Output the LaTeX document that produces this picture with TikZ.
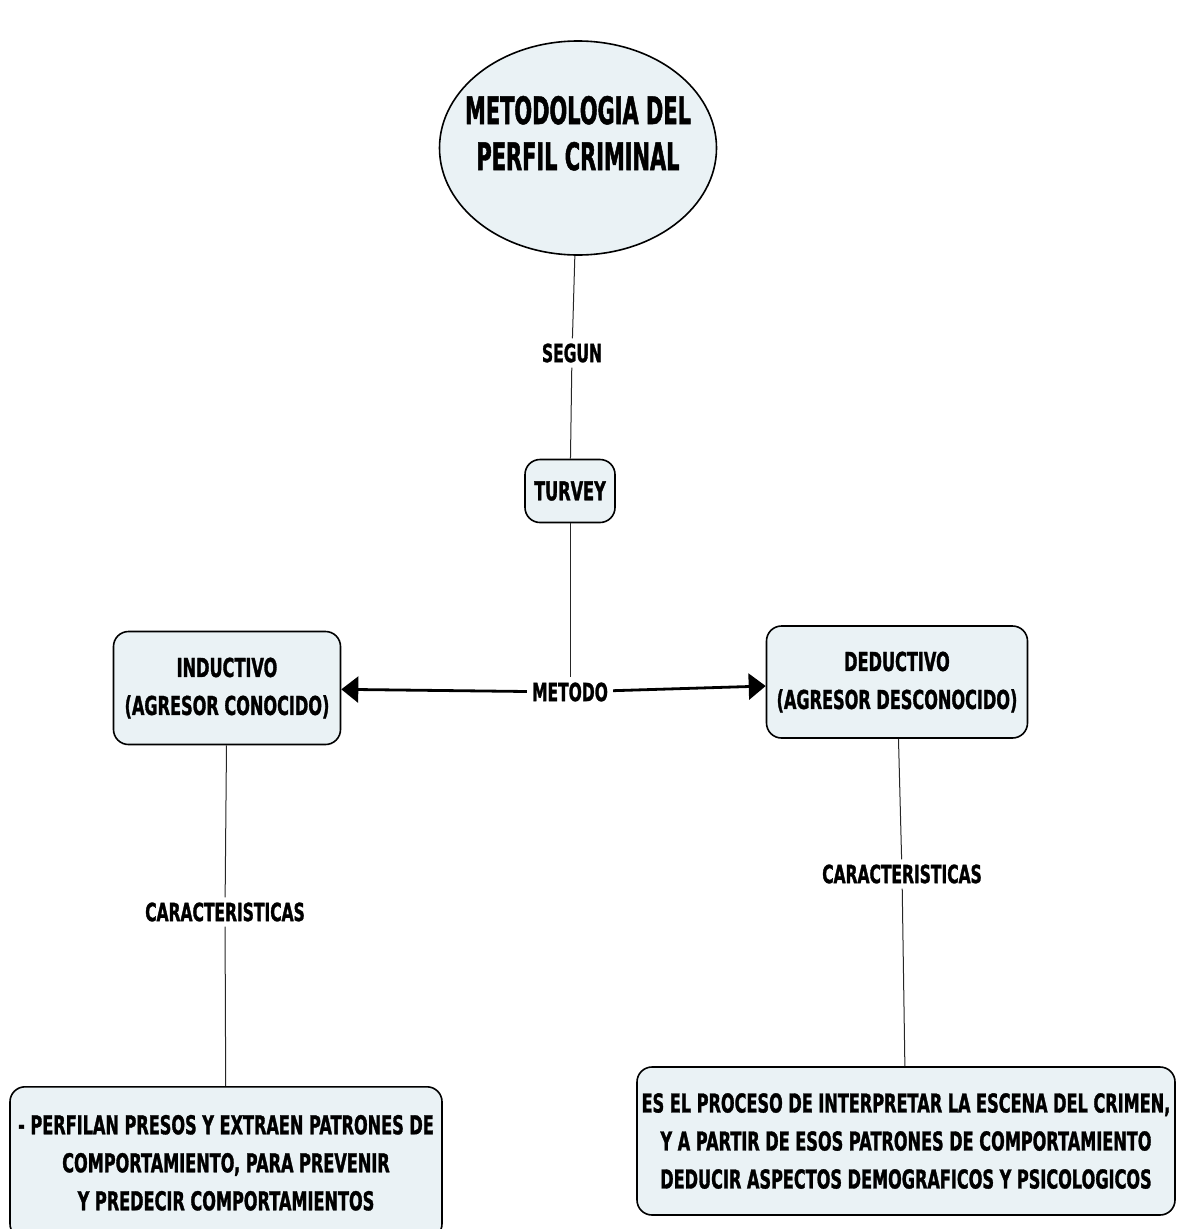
\documentclass[tikz,border=0pt]{standalone}
\usepackage{fontspec}
\setmainfont{DejaVu Sans}[FakeStretch=0.62, BoldFeatures={FakeBold=1.2}]
\newfontfamily\narrowfont{DejaVu Sans}[FakeStretch=0.55, BoldFeatures={FakeBold=1.2}]
\usetikzlibrary{shapes.geometric,arrows.meta}
\definecolor{boxfill}{HTML}{EAF2F5}

\tikzset{
  concept/.style={draw, line width=1.6pt, fill=boxfill, rounded corners=15pt,
    align=center, inner sep=0pt, font=\bfseries\fontsize{26}{38}\selectfont},
  mainidea/.style={ellipse, draw, line width=1.6pt, fill=boxfill, align=center,
    inner xsep=-20pt, inner ysep=0pt, text depth=30pt,
    font=\narrowfont\bfseries\fontsize{38}{46}\selectfont},
  linkword/.style={inner sep=5pt, font=\bfseries\fontsize{25}{30}\selectfont},
  link/.style={line width=1pt, draw=black!85},
  bigarrow/.style={line width=2.8pt, -{Triangle[length=17pt,width=26pt]}}
}

\begin{document}
\begin{tikzpicture}[x=1pt,y=1pt]
  \useasboundingbox (0,0) rectangle (1177,-1229);
  % main concept
  \node[mainidea, minimum width=277, minimum height=214] (meta) at (578,-148)
    {METODOLOGIA DEL\\PERFIL CRIMINAL};
  \node[linkword] (segun) at (572,-353) {SEGUN};
  \node[concept, minimum width=90, minimum height=63] (turvey) at (570,-491) {TURVEY};
  \node[linkword] (metodo) at (570,-692) {METODO};
  % the two methods
  \node[concept, minimum width=227, minimum height=113] (induc) at (227,-688)
    {INDUCTIVO\\(AGRESOR CONOCIDO)};
  \node[concept, minimum width=261, minimum height=112] (deduc) at (897,-682)
    {DEDUCTIVO\\(AGRESOR DESCONOCIDO)};
  \node[linkword] (carI) at (225,-912) {CARACTERISTICAS};
  \node[linkword] (carD) at (902,-874) {CARACTERISTICAS};
  \node[concept, minimum width=432, minimum height=152, anchor=north] (boxI) at (226,-1086)
    {- PERFILAN PRESOS Y EXTRAEN PATRONES DE\\COMPORTAMIENTO, PARA PREVENIR\\Y PREDECIR COMPORTAMIENTOS};
  \node[concept, minimum width=538, minimum height=148] (boxD) at (906,-1141)
    {ES EL PROCESO DE INTERPRETAR LA ESCENA DEL CRIMEN,\\Y A PARTIR DE ESOS PATRONES DE COMPORTAMIENTO\\DEDUCIR ASPECTOS DEMOGRAFICOS Y PSICOLOGICOS};
  % connectors
  \draw[link] (meta) -- (segun);
  \draw[link] (segun) -- (turvey);
  \draw[link] (turvey) -- (metodo);
  \draw[bigarrow] (metodo) -- (induc);
  \draw[bigarrow] (metodo) -- (deduc);
  \draw[link] (induc) -- (carI);
  \draw[link] (carI) -- (boxI);
  \draw[link] (deduc) -- (carD);
  \draw[link] (carD) -- (boxD);
\end{tikzpicture}
\end{document}
